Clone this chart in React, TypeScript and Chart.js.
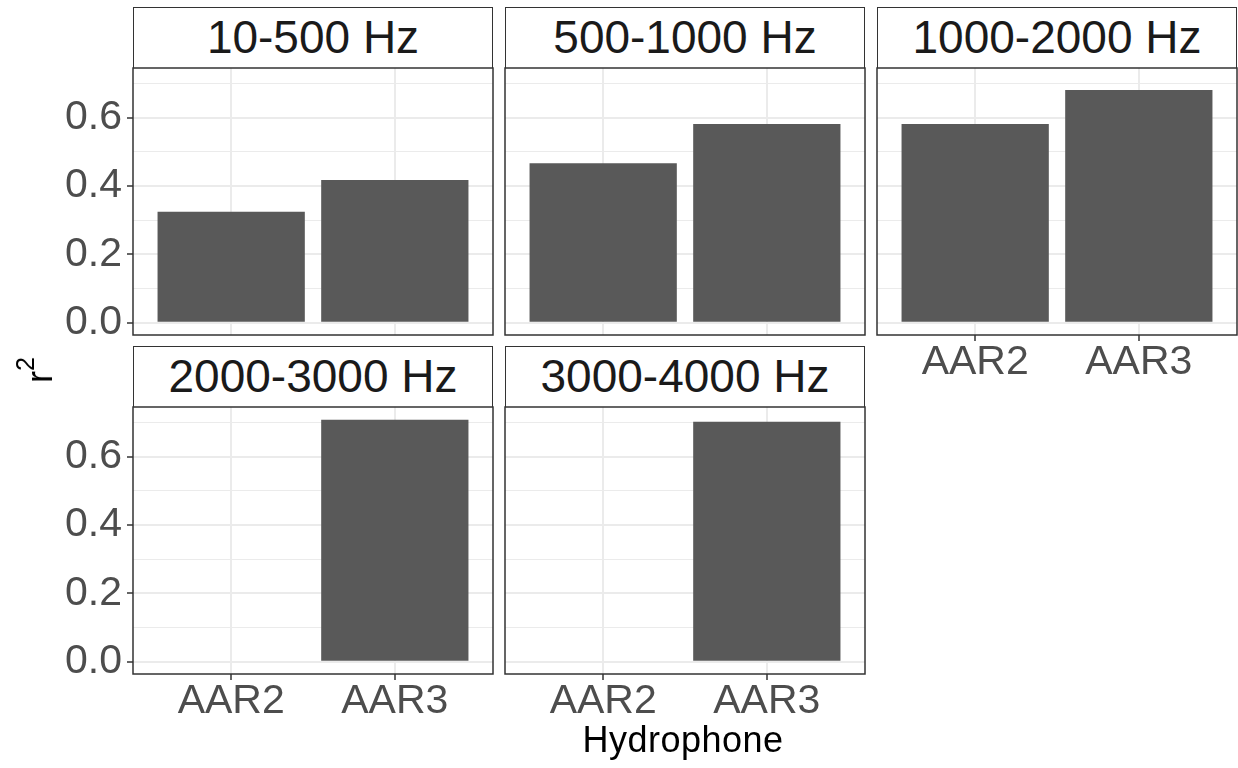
import React, { useEffect, useRef } from "react";
import { Chart, registerables } from "chart.js";

Chart.register(...registerables);

// ---------- data ----------
const frequencyBands = ["10-500 Hz", "500-1000 Hz", "1000-2000 Hz", "2000-3000 Hz", "3000-4000 Hz"];
const hydrophones = ["AAR2", "AAR3"];
const r2AAR2: (number | null)[] = [0.325, 0.467, 0.582, null, null];
const r2AAR3: (number | null)[] = [0.418, 0.582, 0.681, 0.708, 0.702];
const yMajorTicks = [0.0, 0.2, 0.4, 0.6];
const yMinorTicks = [0.1, 0.3, 0.5, 0.7];
const yLimits = [-0.0355, 0.7455];
const xLimits = [0.4, 2.6];
const xAxisTitle = "Hydrophone";

// ---------- layout / style ----------
const FONT = "'Liberation Sans', Arial, Helvetica, sans-serif";
const COL_LEFT = [133, 505, 877];
const ROW_TOP = [7, 346];
const PANEL_W = 360;
const STRIP_H = 61;
const PLOT_H = 267;
const BORDER = "#333333";
const GRID = "#EBEBEB";
const BAR = "#595959";
const TICK_TEXT = "#4D4D4D";

const isMajor = (v: number) => yMajorTicks.some((m) => Math.abs(m - v) < 1e-9);

const framePlugin = {
  id: "panelFrame",
  afterDraw(chart: any) {
    const { ctx, chartArea: a } = chart;
    ctx.save();
    ctx.strokeStyle = BORDER;
    ctx.lineWidth = 1.5;
    ctx.strokeRect(a.left, a.top, a.right - a.left, a.bottom - a.top);
    ctx.restore();
  },
};

function Panel({ index }: { index: number }) {
  const ref = useRef<HTMLCanvasElement>(null);
  const col = index % 3;
  const row = Math.floor(index / 3);
  const hasY = col === 0;
  const hasX = index + 3 >= frequencyBands.length;
  const L = hasY ? COL_LEFT[0] : 4;
  const B = hasX ? 70 : 14;
  const PAD_T = 2;
  const PAD_R = 4;
  const stripTop = ROW_TOP[row];
  const plotTop = stripTop + STRIP_H;
  const canvasLeft = COL_LEFT[col] - L;
  const canvasTop = plotTop - PAD_T;
  const cw = L + PANEL_W + PAD_R;
  const ch = PAD_T + PLOT_H + B;

  useEffect(() => {
    const canvas = ref.current!;
    const chart = new Chart(canvas, {
      type: "bar",
      data: {
        datasets: [
          {
            data: hydrophones.map((h, j) => ({
              x: j + 1,
              y: (j === 0 ? r2AAR2 : r2AAR3)[index],
            })) as any,
            backgroundColor: BAR,
            borderWidth: 0,
            categoryPercentage: 1,
            barPercentage: 0.9,
          },
        ],
      },
      options: {
        animation: false,
        responsive: false,
        events: [],
        layout: { padding: { top: PAD_T, right: PAD_R, left: 0, bottom: 0 } },
        plugins: { legend: { display: false }, tooltip: { enabled: false } },
        scales: {
          x: {
            type: "linear",
            min: xLimits[0],
            max: xLimits[1],
            offset: false,
            afterBuildTicks: (s: any) => {
              s.ticks = hydrophones.map((_, j) => ({ value: j + 1 }));
            },
            afterFit: (s: any) => {
              s.height = B;
              s.paddingLeft = 0;
              s.paddingRight = 0;
              s.paddingTop = 0;
              s.paddingBottom = 0;
            },
            border: { display: false },
            grid: {
              offset: false,
              color: GRID,
              lineWidth: 2,
              drawTicks: hasX,
              tickColor: BORDER,
              tickLength: 6,
              tickWidth: 1.5,
            },
            ticks: {
              display: hasX,
              autoSkip: false,
              maxRotation: 0,
              padding: -3,
              color: TICK_TEXT,
              font: { family: FONT, size: 41 },
              callback: (v: any) => hydrophones[Math.round(Number(v)) - 1],
            },
          },
          y: {
            type: "linear",
            min: yLimits[0],
            max: yLimits[1],
            afterBuildTicks: (s: any) => {
              s.ticks = [...yMajorTicks, ...yMinorTicks]
                .sort((a, b) => a - b)
                .map((v) => ({ value: v }));
            },
            afterFit: (s: any) => {
              s.width = L;
              s.paddingLeft = 0;
              s.paddingRight = 0;
              s.paddingTop = 0;
              s.paddingBottom = 0;
            },
            border: { display: false },
            grid: {
              color: GRID,
              lineWidth: (c: any) => (isMajor(c.tick.value) ? 2 : 1),
              drawTicks: hasY,
              tickColor: (c: any) => (isMajor(c.tick.value) ? BORDER : "rgba(0,0,0,0)"),
              tickLength: 6,
              tickWidth: 1.5,
            },
            ticks: {
              display: hasY,
              autoSkip: false,
              padding: 5,
              color: TICK_TEXT,
              font: { family: FONT, size: 41 },
              callback: (v: any) => (isMajor(Number(v)) ? Number(v).toFixed(1) : ""),
            },
          },
        },
      },
      plugins: [framePlugin],
    });
    return () => chart.destroy();
  }, []);

  return (
    <>
      <div
        style={{
          position: "absolute",
          left: COL_LEFT[col],
          top: stripTop,
          width: PANEL_W,
          height: STRIP_H,
          boxSizing: "border-box",
          borderTop: `1.5px solid ${BORDER}`,
          borderLeft: `1.5px solid ${BORDER}`,
          borderRight: `1.5px solid ${BORDER}`,
          background: "#FFFFFF",
          color: "#1A1A1A",
          fontFamily: FONT,
          fontSize: 46,
          lineHeight: `${STRIP_H - 1.5}px`,
          textAlign: "center",
          whiteSpace: "nowrap",
        }}
      >
        {frequencyBands[index]}
      </div>
      <canvas
        ref={ref}
        width={cw}
        height={ch}
        style={{ position: "absolute", left: canvasLeft, top: canvasTop, width: cw, height: ch }}
      />
    </>
  );
}

export default function App() {
  return (
    <div
      style={{
        position: "absolute",
        left: 0,
        top: 0,
        width: 1238,
        height: 768,
        background: "#FFFFFF",
        overflow: "hidden",
        fontFamily: FONT,
      }}
    >
      {frequencyBands.map((_, i) => (
        <Panel key={i} index={i} />
      ))}
      <div
        style={{
          position: "absolute",
          left: 40,
          top: 370,
          transform: "translate(-50%, -50%) rotate(-90deg)",
          fontSize: 36,
          lineHeight: 1,
          whiteSpace: "nowrap",
          color: "#000000",
        }}
      >
        <span>r</span>
        <span style={{ fontSize: 25, position: "relative", top: -18 }}>2</span>
      </div>
      <div
        style={{
          position: "absolute",
          left: 83,
          top: 722,
          width: 1200,
          textAlign: "center",
          fontSize: 36,
          letterSpacing: 0.5,
          lineHeight: 1,
          color: "#000000",
          whiteSpace: "nowrap",
        }}
      >
        {xAxisTitle}
      </div>
    </div>
  );
}
